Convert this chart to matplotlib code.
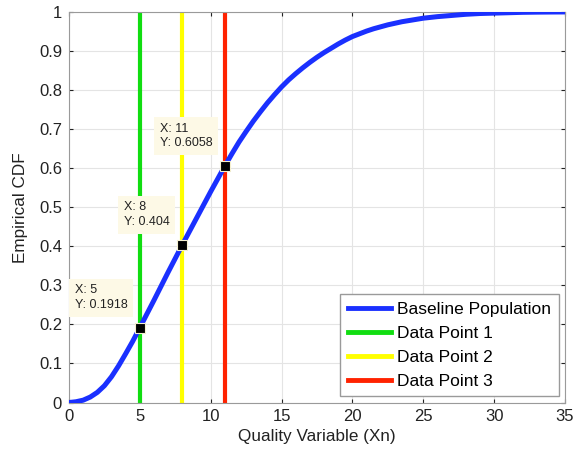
import matplotlib.pyplot as plt

plt.rcParams['font.family'] = ['Liberation Sans', 'DejaVu Sans']

# values
xn = [0, 0.5, 1, 1.5, 2, 2.5, 3, 3.5, 4, 4.5, 5, 6, 7, 8, 9, 10, 11, 11.5, 12,
      12.5, 13, 13.5, 14, 14.5, 15, 15.5, 16, 16.5, 17, 17.5, 18, 18.5, 19,
      19.5, 20, 20.5, 21, 21.5, 22, 22.5, 23, 23.5, 24, 24.5, 25, 26, 27, 28,
      29, 30, 31, 32, 33, 34, 35]
cdf = [0.0, 0.002, 0.006, 0.014, 0.026, 0.043, 0.066, 0.094, 0.125, 0.157,
       0.1918, 0.262, 0.334, 0.404, 0.472, 0.540, 0.6058, 0.637, 0.667, 0.694,
       0.720, 0.744, 0.767, 0.788, 0.808, 0.826, 0.842, 0.857, 0.871, 0.884,
       0.896, 0.907, 0.918, 0.928, 0.937, 0.944, 0.951, 0.957, 0.962, 0.967,
       0.971, 0.975, 0.978, 0.981, 0.984, 0.988, 0.991, 0.994, 0.996, 0.997,
       0.998, 0.999, 0.9995, 0.9998, 1.0]

point_x = [5, 8, 11]
point_y = [0.1918, 0.404, 0.6058]
point_labels = ['Data Point 1', 'Data Point 2', 'Data Point 3']
point_colors = ['#11dd11', '#ffff00', '#ff2200']
tip_text = ['X: 5\nY: 0.1918', 'X: 8\nY: 0.404', 'X: 11\nY: 0.6058']

fig = plt.figure(figsize=(5.74, 4.51), dpi=100)
ax = fig.add_axes([0.1202, 0.1075, 0.864, 0.866])

ax.plot(xn, cdf, color='#1a30ff', lw=3.6, label='Baseline Population', zorder=3,
        solid_joinstyle='round')
for x, lab, c in zip(point_x, point_labels, point_colors):
    ax.axvline(x, color=c, lw=3, label=lab, zorder=2)

ax.plot(point_x, point_y, 's', color='black', mec='#f5f0d0', mew=0.8,
        ms=7.5, zorder=6, linestyle='none')
for x, y, t in zip(point_x, point_y, tip_text):
    ax.annotate(t, xy=(x, y), xytext=(-9, 12), textcoords='offset points',
                ha='right', va='bottom', multialignment='left', fontsize=9,
                color='#222222', zorder=7, linespacing=1.3,
                bbox=dict(boxstyle='square,pad=0.45', fc='#fdf9e6', ec='none'))

ax.set_xlim(0, 35)
ax.set_ylim(0, 1)
ax.set_xticks(range(0, 36, 5))
ax.set_yticks([i / 10 for i in range(11)])
ax.set_yticklabels(['0', '0.1', '0.2', '0.3', '0.4', '0.5', '0.6', '0.7',
                    '0.8', '0.9', '1'])
ax.tick_params(direction='in', length=3, labelsize=12, colors='#222222',
               top=True, right=True, pad=5)
ax.grid(True, color='#e4e4e4', lw=0.8)
ax.set_axisbelow(True)
for s in ax.spines.values():
    s.set_color('#9a9a9a')

ax.set_xlabel('Quality Variable (Xn)', fontsize=12.3, color='#222222', labelpad=3)
ax.set_ylabel('Empirical CDF', fontsize=12.3, color='#222222', labelpad=8)

leg = ax.legend(loc='lower right', fontsize=12.5, fancybox=False, framealpha=1,
                edgecolor='#9a9a9a', handlelength=2.5, borderaxespad=0.35,
                labelspacing=0.5, handletextpad=0.35, borderpad=0.45)
leg.set_zorder(10)
for h in leg.get_lines():
    h.set_linewidth(3.5)

fig.savefig('out.png', dpi=100)
